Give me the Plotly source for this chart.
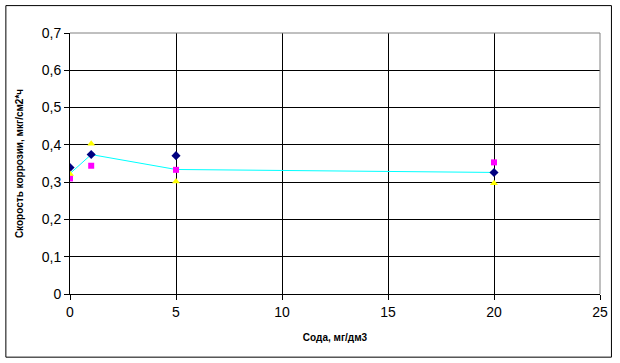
import plotly.graph_objects as go

soda = [0, 1, 5, 20]
s1 = [0.339, 0.374, 0.371, 0.326]   # navy diamonds
s2 = [0.310, 0.344, 0.333, 0.353]   # magenta squares
s3 = [0.322, 0.403, 0.302, 0.297]   # yellow triangles
avg = [0.323, 0.374, 0.334, 0.326]  # cyan line

y_ticks = [0, 0.1, 0.2, 0.3, 0.4, 0.5, 0.6, 0.7]
y_labels = ["0", "0,1", "0,2", "0,3", "0,4", "0,5", "0,6", "0,7"]
x_ticks = [0, 5, 10, 15, 20, 25]
x_labels = ["0", "5", "10", "15", "20", "25"]

fig = go.Figure()
fig.add_trace(go.Scatter(x=soda, y=avg, mode="lines",
                         line=dict(color="#00FFFF", width=1), showlegend=False))
fig.add_trace(go.Scatter(x=soda, y=s1, mode="markers",
                         marker=dict(symbol="diamond", color="#000080", size=7), showlegend=False))
fig.add_trace(go.Scatter(x=soda, y=s2, mode="markers",
                         marker=dict(symbol="square", color="#FF00FF", size=6), showlegend=False))
fig.add_trace(go.Scatter(x=soda, y=s3, mode="markers",
                         marker=dict(symbol="triangle-up", color="#FFFF00", size=7), showlegend=False))

font_family = "Liberation Sans, Arial, sans-serif"
fig.update_layout(
    width=620, height=363,
    margin=dict(l=70, r=18, t=33, b=69),
    paper_bgcolor="white", plot_bgcolor="white",
    font=dict(family=font_family, color="black"),
    xaxis=dict(range=[0, 25], tickvals=x_ticks, ticktext=x_labels,
               showgrid=True, gridcolor="black", gridwidth=1,
               zeroline=False, showline=True, linecolor="black", linewidth=1,
               ticks="outside", ticklen=5, tickcolor="black",
               tickfont=dict(size=14, family=font_family),
               title=dict(text="<b>Сода, мг/дм3</b>", font=dict(size=10, family=font_family), standoff=15)),
    yaxis=dict(range=[0, 0.7], tickvals=y_ticks, ticktext=y_labels,
               showgrid=True, gridcolor="black", gridwidth=1,
               zeroline=False, showline=True, linecolor="black", linewidth=1,
               ticks="outside", ticklen=5, tickcolor="black",
               tickfont=dict(size=14, family=font_family),
               title=dict(text="<b>Скорость коррозии, мкг/см2*ч</b>", font=dict(size=10, family=font_family), standoff=16)),
    shapes=[
        dict(type="line", xref="paper", yref="paper", x0=0, x1=1, y0=1, y1=1,
             line=dict(color="#808080", width=1), layer="above"),
        dict(type="line", xref="paper", yref="paper", x0=1, x1=1, y0=0, y1=1,
             line=dict(color="#808080", width=1), layer="above"),
        dict(type="rect", xref="paper", yref="paper", x0=-0.121, x1=1.0216, y0=-0.242, y1=1.105,
             line=dict(color="black", width=1), layer="below"),
    ],
)
fig.write_html("out.html")
